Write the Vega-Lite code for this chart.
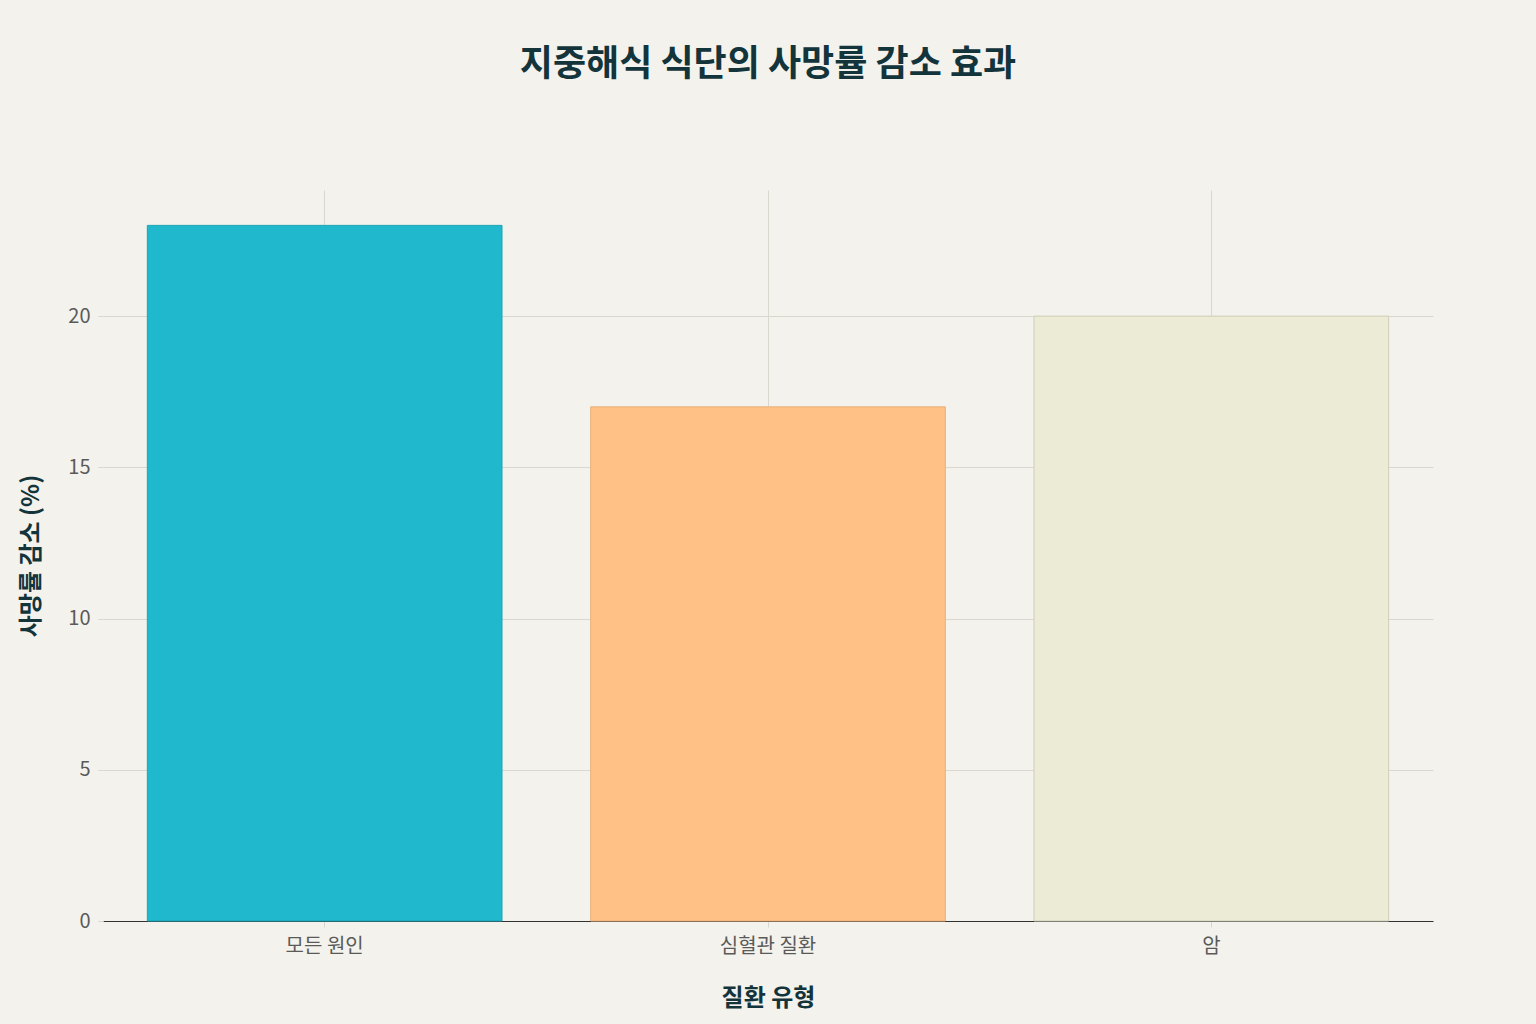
{
  "$schema": "https://vega.github.io/schema/vega-lite/v6.json",
  "description": "지중해식 식단의 사망률 감소 효과",
  "autosize": "none",
  "padding": {"left": 103, "top": 190, "right": 103, "bottom": 103},
  "width": 1330,
  "height": 731,
  "background": "#F3F2EC",
  "title": {
    "text": "지중해식 식단의 사망률 감소 효과",
    "font": "Noto Sans CJK KR",
    "fontSize": 36,
    "fontWeight": "bold",
    "color": "#13343B",
    "anchor": "middle",
    "offset": 106
  },
  "data": {
    "values": [
      {"type": "모든 원인", "reduction": 23},
      {"type": "심혈관 질환", "reduction": 17},
      {"type": "암", "reduction": 20}
    ]
  },
  "mark": {"type": "bar", "strokeWidth": 1},
  "encoding": {
    "x": {
      "field": "type",
      "type": "nominal",
      "sort": null,
      "title": "질환 유형",
      "scale": {"paddingInner": 0.2, "paddingOuter": 0.1},
      "axis": {
        "labelAngle": 0,
        "grid": true,
        "bandPosition": 0.5,
        "gridColor": "#D9D7CE",
        "domainColor": "#333333",
        "tickColor": "#D9D7CE",
        "tickSize": 6,
        "labelPadding": 9,
        "titlePadding": 30
      }
    },
    "y": {
      "field": "reduction",
      "type": "quantitative",
      "title": "사망률 감소 (%)",
      "scale": {"domain": [0, 24.17], "nice": false},
      "axis": {
        "values": [0, 5, 10, 15, 20],
        "domain": false,
        "gridColor": "#D9D7CE",
        "tickColor": "#D9D7CE",
        "tickSize": 5,
        "labelPadding": 8,
        "titlePadding": 24
      }
    },
    "fill": {
      "field": "type",
      "type": "nominal",
      "legend": null,
      "scale": {
        "domain": ["모든 원인", "심혈관 질환", "암"],
        "range": ["#1FB8CD", "#FFC185", "#ECEBD5"]
      }
    },
    "stroke": {
      "field": "type",
      "type": "nominal",
      "legend": null,
      "scale": {
        "domain": ["모든 원인", "심혈관 질환", "암"],
        "range": ["#1AA3B5", "#E8B07A", "#CFCDB8"]
      }
    }
  },
  "config": {
    "view": {"stroke": null},
    "axis": {
      "labelFont": "Noto Sans CJK KR",
      "labelFontSize": 20,
      "labelColor": "#5A5A5A",
      "titleFont": "Noto Sans CJK KR",
      "titleFontSize": 24,
      "titleFontWeight": "bold",
      "titleColor": "#13343B"
    }
  }
}
